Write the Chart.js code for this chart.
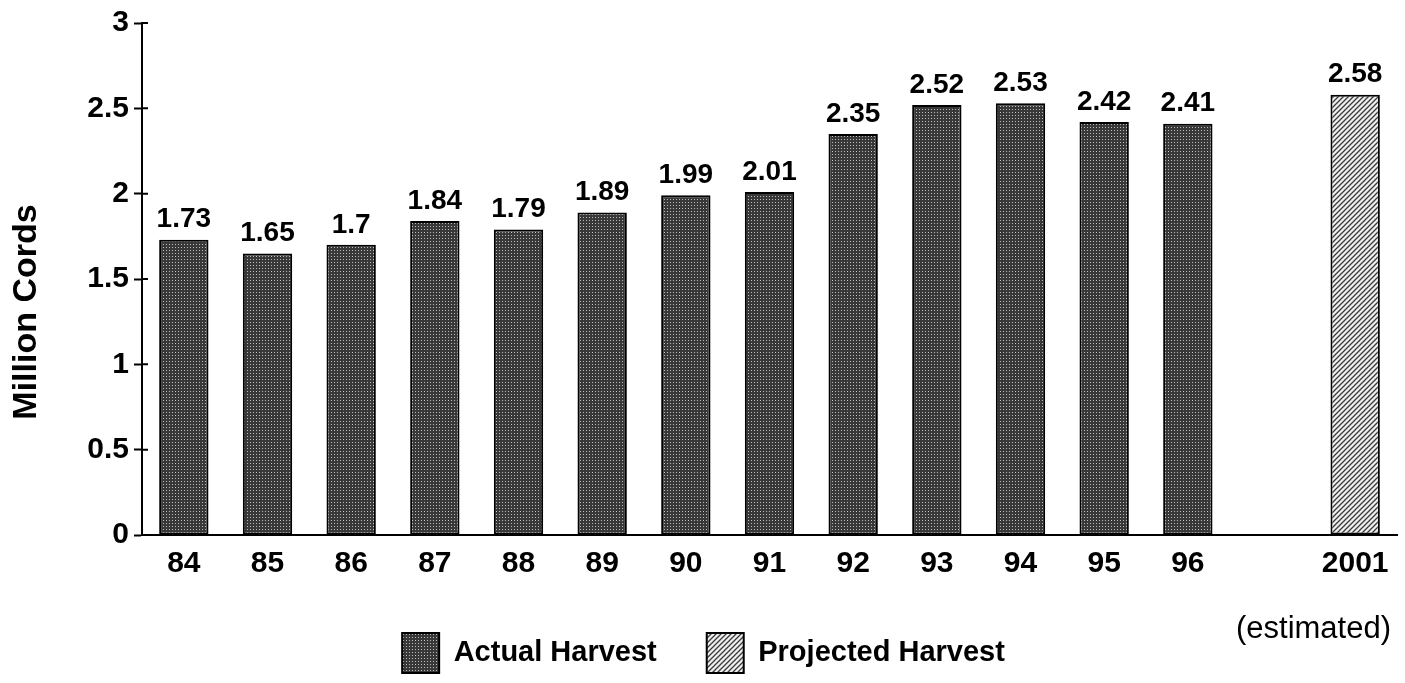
<!DOCTYPE html>
<html>
<head>
<meta charset="utf-8">
<script src="https://cdn.jsdelivr.net/npm/chart.js@4/dist/chart.umd.min.js"></script>
<style>
  html, body { margin: 0; padding: 0; background: #fff; }
  #wrap { width: 1405px; height: 683px; position: relative; }
</style>
</head>
<body>
<div id="wrap"><canvas id="chart"></canvas></div>
<script>
// harvest data, million cords
const years = ['84', '85', '86', '87', '88', '89', '90', '91', '92', '93', '94', '95', '96', '', '2001'];
const actualHarvest = [1.73, 1.65, 1.7, 1.84, 1.79, 1.89, 1.99, 2.01, 2.35, 2.52, 2.53, 2.42, 2.41, null, null];
const projectedHarvest = [null, null, null, null, null, null, null, null, null, null, null, null, null, null, 2.58];
const yTicks = [0, 0.5, 1, 1.5, 2, 2.5, 3];

const FONT = '"Liberation Sans", Arial, Helvetica, sans-serif';

function stipple() {
    const c = document.createElement('canvas');
    c.width = 3; c.height = 3;
    const x = c.getContext('2d');
    x.fillStyle = '#383838';
    x.fillRect(0, 0, 3, 3);
    x.fillStyle = '#bdbdbd';
    x.fillRect(1, 1, 1, 1);
    return x.createPattern(c, 'repeat');
}

function hatch() {
    const s = 5;
    const c = document.createElement('canvas');
    c.width = s; c.height = s;
    const x = c.getContext('2d');
    x.fillStyle = '#efefef';
    x.fillRect(0, 0, s, s);
    x.strokeStyle = '#3a3a3a';
    x.lineWidth = 1.3;
    x.beginPath();
    x.moveTo(0, s); x.lineTo(s, 0);
    x.moveTo(-1, 1); x.lineTo(1, -1);
    x.moveTo(s - 1, s + 1); x.lineTo(s + 1, s - 1);
    x.stroke();
    return x.createPattern(c, 'repeat');
}

const valueLabels = {
    id: 'valueLabels',
    afterDatasetsDraw(chart) {
        const ctx = chart.ctx;
        ctx.save();
        ctx.font = 'bold 28px ' + FONT;
        ctx.fillStyle = '#000';
        ctx.textAlign = 'center';
        ctx.textBaseline = 'bottom';
        chart.data.datasets.forEach((ds, i) => {
            chart.getDatasetMeta(i).data.forEach((bar, j) => {
                const v = ds.data[j];
                if (v == null) return;
                ctx.fillText(String(v), bar.x, bar.y - 6);
            });
        });

        // tick marks poke through to the inside of the y axis too
        const ys = chart.scales.y;
        ctx.strokeStyle = '#000';
        ctx.lineWidth = 2;
        ctx.beginPath();
        yTicks.forEach(v => {
            const py = ys.getPixelForValue(v);
            ctx.moveTo(ys.right, py);
            ctx.lineTo(ys.right + 6, py);
        });
        ctx.stroke();

        // note under the projected year
        const xs = chart.scales.x;
        ctx.font = '31px ' + FONT;
        ctx.textAlign = 'right';
        ctx.textBaseline = 'middle';
        ctx.fillText('(estimated)', xs.right - 6, xs.bottom + 46);

        // y axis title, sits a bit below the middle in the original
        ctx.translate(27, 312);
        ctx.rotate(-Math.PI / 2);
        ctx.font = 'bold 34px ' + FONT;
        ctx.textAlign = 'center';
        ctx.fillText('Million Cords', 0, 0);
        ctx.restore();
    }
};

const refChart = document.getElementById('chart');

new Chart(refChart, {
    type: 'bar',
    data: {
        labels: years,
        datasets: [{
            label: 'Actual Harvest',
            data: actualHarvest,
            backgroundColor: stipple(),
            borderColor: '#000',
            borderWidth: 2,
            borderSkipped: false,
            grouped: false,
            barPercentage: 0.59,
            categoryPercentage: 1
        }, {
            label: 'Projected Harvest',
            data: projectedHarvest,
            backgroundColor: hatch(),
            borderColor: '#000',
            borderWidth: 2,
            borderSkipped: false,
            grouped: false,
            barPercentage: 0.59,
            categoryPercentage: 1
        }]
    },
    options: {
        responsive: true,
        maintainAspectRatio: false,
        animation: false,
        layout: {
            padding: { left: 10, right: 8, top: 12, bottom: 0 }
        },
        plugins: {
            tooltip: { enabled: false },
            legend: {
                position: 'bottom',
                labels: {
                    color: '#000',
                    font: { family: FONT, size: 29, weight: 'bold' },
                    boxWidth: 37,
                    boxHeight: 40,
                    padding: 50
                }
            }
        },
        scales: {
            x: {
                grid: { display: false, drawTicks: false },
                border: { color: '#000', width: 2 },
                ticks: {
                    color: '#000',
                    padding: 11,
                    autoSkip: false,
                    maxRotation: 0,
                    font: { family: FONT, size: 30, weight: 'bold' }
                },
                afterFit(scale) { scale.height = 48; }
            },
            y: {
                min: 0,
                max: 3,
                afterBuildTicks(scale) { scale.ticks = yTicks.map(v => ({ value: v })); },
                grid: { drawOnChartArea: false, tickLength: 8, color: '#000', tickWidth: 2 },
                border: { color: '#000', width: 2 },
                ticks: {
                    color: '#000',
                    padding: 5,
                    callback: v => String(v),
                    font: { family: FONT, size: 30, weight: 'bold' }
                },
                afterFit(scale) { scale.width = 132; }
            }
        }
    },
    plugins: [valueLabels]
});
</script>
</body>
</html>
